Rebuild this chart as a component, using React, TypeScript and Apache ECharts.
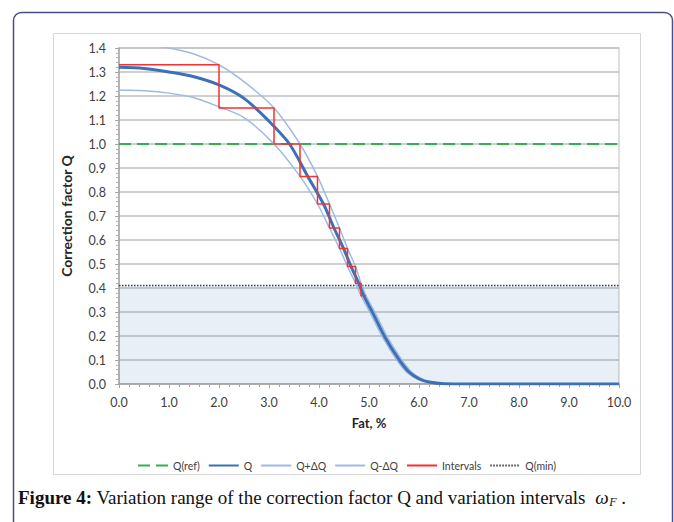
import React, { useEffect, useRef } from "react";
import * as echarts from "echarts";

// Q curve
const qX = [0, 0.5, 1.0, 1.5, 2.0, 2.5, 3.0, 3.41, 3.77, 4.09, 4.3, 4.49, 4.64, 4.79, 4.89, 5.09, 5.32, 5.59, 5.8, 6.0, 6.2, 6.5, 7.0, 10.0];
const qY = [1.32, 1.315, 1.3, 1.28, 1.246, 1.19, 1.095, 1.0, 0.867, 0.75, 0.65, 0.565, 0.49, 0.422, 0.37, 0.29, 0.195, 0.105, 0.05, 0.022, 0.008, 0.001, 0, 0];
// Q + dQ
const upX = [0, 0.5, 1.0, 1.5, 2.0, 2.5, 3.1, 3.62, 3.97, 4.21, 4.41, 4.57, 4.73, 4.84, 4.94, 5.14, 5.37, 5.64, 5.85, 6.05, 6.25, 6.55, 7.0, 10.0];
const upY = [1.42, 1.413, 1.4, 1.375, 1.33, 1.26, 1.15, 1.0, 0.865, 0.75, 0.65, 0.565, 0.49, 0.42, 0.368, 0.29, 0.195, 0.105, 0.05, 0.022, 0.008, 0.001, 0, 0];
// Q - dQ
const loX = [0, 0.5, 1.0, 1.5, 2.0, 2.5, 3.1, 3.62, 3.97, 4.21, 4.41, 4.57, 4.73, 4.84, 5.04, 5.27, 5.54, 5.75, 5.95, 6.15, 6.45, 7.0, 10.0];
const loY = [1.225, 1.222, 1.212, 1.193, 1.155, 1.11, 1.0, 0.865, 0.75, 0.65, 0.565, 0.49, 0.42, 0.368, 0.29, 0.195, 0.105, 0.05, 0.022, 0.008, 0.001, 0, 0];
// Intervals (step boundaries and levels)
const stepX = [0, 2.0, 3.1, 3.62, 3.97, 4.21, 4.41, 4.57, 4.73, 4.84, 4.94];
const stepLevels = [1.33, 1.15, 1.0, 0.865, 0.75, 0.65, 0.565, 0.49, 0.42, 0.368];
// Reference levels
const qRef = 1.0;
const qMin = 0.41;
const xRange = [0, 10];
const legendNames = ["Q(ref)", "Q", "Q+ΔQ", "Q-ΔQ", "Intervals", "Q(min)"];

const captionBold = "Figure 4:";
const captionText = " Variation range of the correction factor Q and variation intervals  ";
const captionSymbol = "ω";
const captionSub = "F";
const captionEnd = " .";

const pairs = (xs: number[], ys: number[]) => xs.map((x, i) => [x, ys[i]]);

export default function App() {
  const ref = useRef<HTMLDivElement>(null);
  useEffect(() => {
    if (!ref.current) return;
    const chart = echarts.init(ref.current, undefined, { renderer: "svg" });
    const stepData: number[][] = [];
    stepLevels.forEach((lv, i) => {
      stepData.push([stepX[i], lv]);
      stepData.push([stepX[i + 1], lv]);
    });

    const capFs = 19;
    const subFs = 12;
    // measure caption widths to place the subscript
    const ctx = document.createElement("canvas").getContext("2d")!;
    ctx.font = `bold ${capFs}px 'Liberation Serif'`;
    const wB = ctx.measureText(captionBold).width;
    ctx.font = `${capFs}px 'Liberation Serif'`;
    const wT = ctx.measureText(captionText).width;
    ctx.font = `italic ${capFs}px 'Liberation Serif'`;
    const wS = ctx.measureText(captionSymbol).width;
    ctx.font = `italic ${subFs}px 'Liberation Serif'`;
    const wSub = ctx.measureText(captionSub).width;
    const capX = 18;
    const capY = 497;
    const subX = capX + wB + wT + wS + 0.5;

    const labelFont = { fontFamily: "Lato", fontSize: 12.5, color: "#404040" };
    const C = {
      ref: "#2fb34a",
      q: "#3d70b7",
      band: "#9dbbe2",
      red: "#ff2d2d",
      min: "#404040",
    };
    chart.setOption({
      animation: false,
      backgroundColor: "#ffffff",
      grid: {
        left: 119,
        right: 55,
        top: 48,
        bottom: 138,
        show: true,
        borderColor: "#d4d4d4",
        borderWidth: 1.5,
      },
      legend: {
        data: legendNames,
        left: 132,
        top: 455,
        itemWidth: 30,
        itemHeight: 10,
        itemGap: 8,
        itemStyle: { opacity: 0 },
        textStyle: { fontFamily: "Lato", fontSize: 10.5, color: "#404040" },
      },
      xAxis: {
        type: "value",
        min: xRange[0],
        max: xRange[1],
        interval: 1,
        name: "Fat, %",
        nameLocation: "middle",
        nameGap: 32,
        nameTextStyle: { fontFamily: "Lato", fontSize: 13, fontWeight: "bold", color: "#262626" },
        axisLine: { lineStyle: { color: "#a6a6a6", width: 1.5 } },
        axisTick: { show: true, length: 4, lineStyle: { color: "#a6a6a6" } },
        minorTick: { show: true, splitNumber: 5, length: 3, lineStyle: { color: "#a6a6a6" } },
        splitLine: { show: false },
        axisLabel: { ...labelFont, margin: 12, formatter: (v: number) => v.toFixed(1) },
      },
      yAxis: {
        type: "value",
        min: 0,
        max: 1.4,
        interval: 0.1,
        name: "Correction factor Q",
        nameLocation: "middle",
        nameGap: 46,
        nameTextStyle: { fontFamily: "Lato", fontSize: 14, fontWeight: "bold", color: "#262626" },
        axisLine: { show: true, lineStyle: { color: "#a6a6a6", width: 1.5 } },
        axisTick: { show: true, length: 4, lineStyle: { color: "#a6a6a6" } },
        minorTick: { show: true, splitNumber: 5, length: 3, lineStyle: { color: "#b0b0b0" } },
        splitLine: { show: true, lineStyle: { color: "#bfbfbf", width: 1.5 } },
        axisLabel: { ...labelFont, margin: 13, formatter: (v: number) => v.toFixed(1) },
      },
      series: [
        {
          name: "Q(min)",
          type: "line",
          symbol: "none",
          color: C.min,
          data: [[xRange[0], qMin], [xRange[1], qMin]],
          lineStyle: { color: C.min, width: 1.5, type: [1.5, 1.5] },
          areaStyle: { color: "rgba(79,129,189,0.18)", origin: "start" },
          z: 1,
        },
        {
          name: "Q(ref)",
          type: "line",
          symbol: "none",
          color: C.ref,
          data: [[xRange[0], qRef], [xRange[1], qRef]],
          lineStyle: { color: C.ref, width: 2, type: [12, 6] },
          z: 2,
        },
        {
          name: "Q+ΔQ",
          type: "line",
          symbol: "none",
          color: C.band,
          smooth: 0.3,
          data: pairs(upX, upY),
          lineStyle: { color: C.band, width: 1.5 },
          z: 3,
        },
        {
          name: "Q-ΔQ",
          type: "line",
          symbol: "none",
          color: C.band,
          smooth: 0.3,
          data: pairs(loX, loY),
          lineStyle: { color: C.band, width: 1.5 },
          z: 3,
        },
        {
          name: "Q",
          type: "line",
          symbol: "none",
          color: C.q,
          smooth: 0.3,
          data: pairs(qX, qY),
          lineStyle: { color: C.q, width: 3 },
          z: 4,
        },
        {
          name: "Intervals",
          type: "line",
          symbol: "none",
          color: C.red,
          data: stepData,
          lineStyle: { color: C.red, width: 1.5 },
          z: 5,
        },
      ],
      graphic: [
        {
          type: "rect",
          shape: { x: 13.5, y: 12.5, width: 659, height: 600, r: 8 },
          style: { fill: "none", stroke: "#4c4b87", lineWidth: 1.5 },
          silent: true,
        },
        {
          type: "rect",
          shape: { x: 53.5, y: 33.5, width: 587, height: 441 },
          style: { fill: "none", stroke: "#d6d6d6", lineWidth: 1 },
          silent: true,
        },
        {
          type: "text",
          x: capX,
          y: capY,
          style: {
            text: "{b|" + captionBold + "}" + captionText + "{i|" + captionSymbol + "}",
            fontFamily: "Liberation Serif",
            fontSize: capFs,
            fill: "#111111",
            verticalAlign: "middle",
            rich: {
              b: { fontFamily: "Liberation Serif", fontSize: capFs, fontWeight: "bold", fill: "#111111" },
              i: { fontFamily: "Liberation Serif", fontSize: capFs, fontStyle: "italic", fill: "#111111" },
            },
          },
        },
        {
          type: "text",
          x: subX,
          y: capY + 5,
          style: {
            text: captionSub,
            fontFamily: "Liberation Serif",
            fontSize: subFs,
            fontStyle: "italic",
            fill: "#111111",
            verticalAlign: "middle",
          },
        },
        {
          type: "text",
          x: subX + wSub,
          y: capY,
          style: {
            text: captionEnd,
            fontFamily: "Liberation Serif",
            fontSize: capFs,
            fill: "#111111",
            verticalAlign: "middle",
          },
        },
      ],
    });
    return () => chart.dispose();
  }, []);
  return (
    <div
      ref={ref}
      style={{ position: "fixed", left: 0, top: 0, width: 674, height: 522 }}
    />
  );
}
